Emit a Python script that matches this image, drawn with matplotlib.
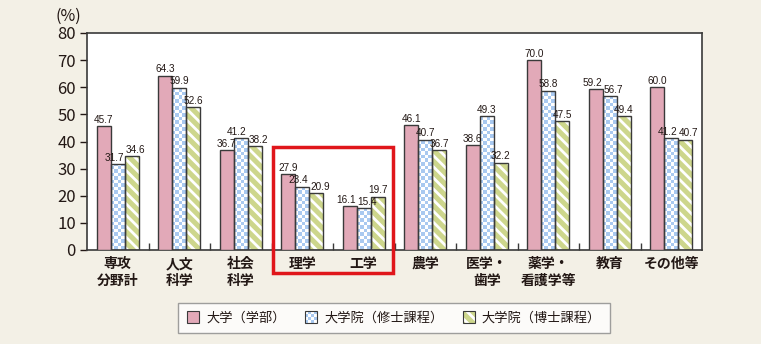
import numpy as np
import matplotlib
matplotlib.use("Agg")
import matplotlib.pyplot as plt
from matplotlib.patches import Rectangle
from matplotlib.legend_handler import HandlerBase

plt.rcParams['font.family'] = ['Noto Sans CJK JP', 'DejaVu Sans']
plt.rcParams['hatch.linewidth'] = 2.0

categories = ["専攻\n分野計", "人文\n科学", "社会\n科学", "理学", "工学", "農学",
              "医学・\n歯学", "薬学・\n看護学等", "教育", "その他等"]
undergrad = [45.7, 64.3, 36.7, 27.9, 16.1, 46.1, 38.6, 70.0, 59.2, 60.0]
master = [31.7, 59.9, 41.2, 23.4, 15.4, 40.7, 49.3, 58.8, 56.7, 41.2]
doctor = [34.6, 52.6, 38.2, 20.9, 19.7, 36.7, 32.2, 47.5, 49.4, 40.7]
series_names = ["大学（学部）", "大学院（修士課程）", "大学院（博士課程）"]

bg = "#F3F0E6"
pink = "#E2A9B8"
blue = "#A9C9F0"
green = "#CDD68C"
edge = "#3A3A3A"
txt = "#231815"

fig = plt.figure(figsize=(7.61, 3.44), dpi=100, facecolor=bg)
ax = fig.add_axes([87 / 761, 1 - 250 / 344, 615 / 761, 217 / 344])
ax.set_facecolor("white")

x = np.arange(len(categories)) + 0.5
w = 14 / 61.5

# pink bars
ax.bar(x - w, undergrad, w, color=pink, edgecolor=edge, linewidth=1.0, zorder=3)

# blue checkerboard bars
b2 = ax.bar(x, master, w, color=blue, edgecolor="none", zorder=2)
cell_y = 80 * (3.5 / 217)
checker = matplotlib.colors.ListedColormap(["white", blue])
for r in b2:
    x0 = r.get_x()
    h = r.get_height()
    ny = int(np.ceil(h / cell_y))
    img = (np.add.outer(np.arange(ny), np.arange(4)) % 2).astype(float)
    im = ax.imshow(img[::-1], cmap=checker, extent=(x0, x0 + w, 0, ny * cell_y),
                   aspect="auto", interpolation="nearest", zorder=2.5)
    im.set_clip_path(r)
ax.bar(x, master, w, fill=False, edgecolor=edge, linewidth=1.0, zorder=3)

# green hatched bars
ax.bar(x + w, doctor, w, color=green, edgecolor="white", hatch="\\\\\\", linewidth=0, zorder=2)
ax.bar(x + w, doctor, w, fill=False, edgecolor=edge, linewidth=1.0, zorder=3)

# value labels, nudged sideways where neighbours sit at similar heights
for i, xi in enumerate(x):
    vals = [undergrad[i], master[i], doctor[i]]
    shifts = [0.0, 0.0, 0.0]
    for k in range(2):
        if abs(vals[k] - vals[k + 1]) < 3.5:
            shifts[k] -= 0.06
            shifts[k + 1] += 0.06
    for k, v in enumerate(vals):
        ax.text(xi + (k - 1) * w + shifts[k], v + 0.5, f"{v:.1f}", ha="center", va="bottom",
                fontsize=7.2, color=txt, family=['Liberation Sans', 'DejaVu Sans'], zorder=4)

ax.set_xlim(0, 10)
ax.set_ylim(0, 80)
ax.set_yticks(range(0, 81, 10))
ax.tick_params(axis="y", labelsize=12, colors=txt, length=5, width=1, direction="out", pad=3)
ax.set_xticks(x)
ax.set_xticklabels(categories, fontsize=10, fontweight="bold", color=txt, linespacing=1.3)
ax.tick_params(axis="x", length=0, pad=5)
ax.set_xticks(np.arange(1, 10), minor=True)
ax.tick_params(axis="x", which="minor", direction="in", length=5, width=1, color=edge)
for s in ax.spines.values():
    s.set_color(edge)
    s.set_linewidth(1.2)

fig.text(68 / 761, 1 - 16 / 344, "(%)", ha="center", va="center", fontsize=11.5, color=txt)

# red highlight box
fig.add_artist(Rectangle((273 / 761, 1 - 273 / 344), 120 / 761, 126 / 344,
                         transform=fig.transFigure, fill=False, edgecolor="#E0161B",
                         linewidth=2.5, zorder=10))


class SwatchHandler(HandlerBase):
    def __init__(self, kind):
        super().__init__()
        self.kind = kind

    def create_artists(self, legend, orig_handle, xd, yd, width, height, fontsize, trans):
        s = height * 1.3
        x0 = xd + (width - s) / 2 - xd * 2
        y0 = -yd + (height - s) / 2
        arts = []
        if self.kind == "pink":
            arts.append(Rectangle((x0, y0), s, s, facecolor=pink, edgecolor="none", transform=trans))
        elif self.kind == "blue":
            arts.append(Rectangle((x0, y0), s, s, facecolor="white", edgecolor="none", transform=trans))
            n = 4
            c = s / n
            for a in range(n):
                for b in range(n):
                    if (a + b) % 2 == 0:
                        arts.append(Rectangle((x0 + a * c, y0 + b * c), c, c, facecolor=blue,
                                              edgecolor="none", transform=trans))
        else:
            arts.append(Rectangle((x0, y0), s, s, facecolor=green, edgecolor="white",
                                  hatch="\\\\\\", linewidth=0, transform=trans))
        arts.append(Rectangle((x0, y0), s, s, fill=False, edgecolor=edge, linewidth=0.8,
                              transform=trans))
        return arts


handles = [Rectangle((0, 0), 1, 1) for _ in range(3)]
leg = fig.legend(handles, series_names, loc="center", bbox_to_anchor=(394 / 761, 1 - 318 / 344),
                 ncol=3, frameon=True, fancybox=False, fontsize=9.5, handlelength=1.0,
                 handletextpad=0.5, columnspacing=1.4, borderpad=0.65,
                 handler_map={h: SwatchHandler(k) for h, k in zip(handles, ["pink", "blue", "green"])})
leg.get_frame().set_edgecolor("#888888")
leg.get_frame().set_linewidth(1.0)
for t in leg.get_texts():
    t.set_color(txt)

fig.savefig("out.png", dpi=100, facecolor=bg)
